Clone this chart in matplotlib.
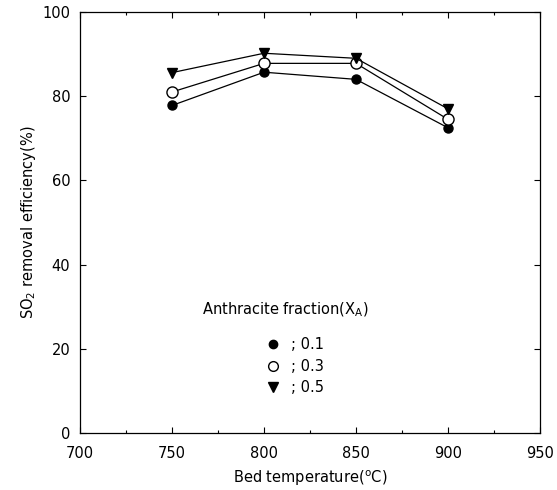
import matplotlib
matplotlib.use("Agg")
import matplotlib.pyplot as plt
from matplotlib.ticker import MultipleLocator

# Bed temperature (deg C)
temperature = [750, 800, 850, 900]

# SO2 removal efficiency (%) for each anthracite fraction
eff_01 = [77.8, 85.7, 84.0, 72.5]
eff_03 = [81.0, 87.8, 87.8, 74.5]
eff_05 = [85.6, 90.2, 89.0, 77.0]

legend_labels = ["; 0.1", "; 0.3", "; 0.5"]

plt.rcParams["font.family"] = ["DejaVu Sans"]

fig = plt.figure(figsize=(5.57, 4.90), dpi=100)
ax = fig.add_axes([80 / 557, 57 / 490, 460 / 557, 421 / 490])

ax.plot(temperature, eff_01, color="black", lw=0.9, marker="o", ms=6.5,
        mfc="black", mec="black")
ax.plot(temperature, eff_03, color="black", lw=0.9, marker="o", ms=8,
        mfc="white", mec="black", mew=1.0)
ax.plot(temperature, eff_05, color="black", lw=0.9, marker="v", ms=7,
        mfc="black", mec="black")

ax.set_xlim(700, 950)
ax.set_ylim(0, 100)
ax.xaxis.set_major_locator(MultipleLocator(50))
ax.xaxis.set_minor_locator(MultipleLocator(25))
ax.yaxis.set_major_locator(MultipleLocator(20))
ax.tick_params(which="both", direction="in", top=True, right=True,
               labelsize=10.5)
ax.tick_params(axis="x", pad=9)
ax.tick_params(axis="y", pad=7)
ax.tick_params(which="major", length=4, width=0.8)
ax.tick_params(which="minor", length=2, width=0.8)
for spine in ax.spines.values():
    spine.set_linewidth(0.9)

ax.set_xlabel("Bed temperature($^{\\mathrm{o}}$C)", fontsize=10.5, labelpad=6)
ax.set_ylabel("SO$_2$ removal efficiency(%)", fontsize=10.5, labelpad=3)

# in-plot legend
ax.text(811.5, 29.2, "Anthracite fraction(X$_\\mathrm{A}$)", fontsize=10.5,
        ha="center", va="center")
markers = [dict(marker="o", ms=6, mfc="black", mec="black"),
           dict(marker="o", ms=7, mfc="white", mec="black", mew=1.0),
           dict(marker="v", ms=6.5, mfc="black", mec="black")]
rows = [21.1, 15.9, 10.9]
for style, y, label in zip(markers, rows, legend_labels):
    ax.plot([805], [y], ls="none", color="black", **style)
    ax.text(814.5, y, label, fontsize=10.5, va="center", ha="left")

fig.savefig("out.png", dpi=100)
